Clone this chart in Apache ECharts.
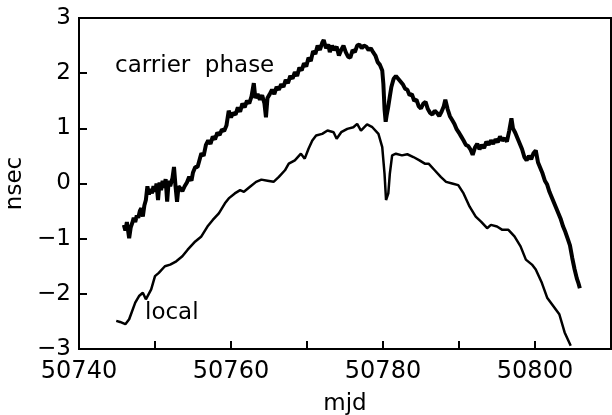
<!DOCTYPE html>
<html>
<head>
<meta charset="utf-8">
<script src="https://cdn.jsdelivr.net/npm/echarts@6/dist/echarts.min.js"></script>
<style>
  html, body { margin: 0; padding: 0; background: #fff; }
  #chart { width: 612px; height: 415px; }
</style>
</head>
<body>
<div id="chart"></div>
<script>
// mjd ticks and y ticks
var xTicks = [50740, 50760, 50780, 50800];
var yTicks = [-3, -2, -1, 0, 1, 2, 3];

// carrier phase (nsec) vs mjd
var carrierMjd = [
  50745.9, 50746.1, 50746.3, 50746.6, 50746.8, 50747.0, 50747.2, 50747.4, 50747.6, 50747.8,
  50748.0, 50748.2, 50748.4, 50748.6, 50748.8, 50749.0, 50749.2, 50749.4, 50749.6, 50749.8,
  50750.0, 50750.2, 50750.4, 50750.6, 50750.8, 50751.0, 50751.2, 50751.4, 50751.6, 50751.8,
  50752.0, 50752.3, 50752.5, 50752.7, 50752.9, 50753.1, 50753.4, 50753.6, 50753.9, 50754.2,
  50754.5, 50754.8, 50755.0, 50755.3, 50755.6, 50755.9, 50756.1, 50756.4, 50756.7, 50757.0,
  50757.3, 50757.6, 50757.9, 50758.2, 50758.5, 50758.8, 50759.1, 50759.4, 50759.7, 50760.0,
  50760.3, 50760.6, 50760.9, 50761.2, 50761.5, 50761.8, 50762.1, 50762.4, 50762.7, 50763.0,
  50763.2, 50763.5, 50763.8, 50764.1, 50764.4, 50764.6, 50764.8, 50765.1, 50765.4, 50765.7,
  50766.0, 50766.3, 50766.6, 50766.9, 50767.2, 50767.5, 50767.8, 50768.1, 50768.4, 50768.7,
  50769.0, 50769.3, 50769.6, 50769.9, 50770.2, 50770.5, 50770.8, 50771.1, 50771.4, 50771.7,
  50772.0, 50772.2, 50772.5, 50772.8, 50773.0, 50773.3, 50773.6, 50773.9, 50774.2, 50774.5,
  50774.8, 50775.1, 50775.4, 50775.7, 50776.0, 50776.3, 50776.6, 50776.9, 50777.2, 50777.5,
  50777.8, 50778.1, 50778.4, 50778.7, 50779.0, 50779.3, 50779.6, 50779.9, 50780.05, 50780.2,
  50780.35, 50780.5, 50780.7, 50780.9, 50781.1, 50781.4, 50781.7, 50782.0, 50782.3, 50782.6,
  50782.9, 50783.2, 50783.5, 50783.8, 50784.1, 50784.4, 50784.7, 50785.0, 50785.3, 50785.6,
  50785.9, 50786.2, 50786.5, 50786.8, 50787.1, 50787.4, 50787.7, 50788.0, 50788.2, 50788.5,
  50788.8, 50789.1, 50789.4, 50789.7, 50790.0, 50790.3, 50790.6, 50790.9, 50791.2, 50791.5,
  50791.8, 50792.1, 50792.4, 50792.7, 50793.0, 50793.3, 50793.6, 50793.9, 50794.2, 50794.5,
  50794.8, 50795.1, 50795.4, 50795.7, 50796.0, 50796.3, 50796.6, 50796.9, 50797.1, 50797.4,
  50797.7, 50798.0, 50798.3, 50798.6, 50798.9, 50799.2, 50799.5, 50799.8, 50800.1, 50800.4,
  50800.7, 50801.0, 50801.3, 50801.6, 50801.9, 50802.2, 50802.5, 50802.8, 50803.1, 50803.4,
  50803.7, 50804.0, 50804.3, 50804.6, 50804.9, 50805.2, 50805.5, 50805.7, 50805.9
];
var carrierNsec = [
  -0.75, -0.85, -0.70, -0.99, -0.80, -0.72, -0.62, -0.70, -0.58, -0.62,
  -0.50, -0.45, -0.60, -0.40, -0.30, -0.05, -0.20, -0.10, -0.18, -0.05,
  -0.15, 0.00, -0.30, 0.02, -0.12, 0.05, -0.08, 0.08, -0.33, 0.05,
  -0.05, 0.10, 0.30, -0.05, -0.33, -0.05, -0.10, -0.14, -0.05, 0.02,
  0.12, 0.05, 0.20, 0.30, 0.30, 0.45, 0.55, 0.50, 0.70, 0.78,
  0.72, 0.85, 0.80, 0.92, 0.88, 0.98, 0.95, 1.05, 1.32, 1.20,
  1.28, 1.25, 1.38, 1.30, 1.45, 1.38, 1.50, 1.45, 1.58, 1.82,
  1.55, 1.62, 1.52, 1.60, 1.45, 1.20, 1.55, 1.62, 1.70, 1.62,
  1.75, 1.70, 1.80, 1.75, 1.88, 1.82, 1.95, 1.90, 2.02, 1.95,
  2.10, 2.05, 2.18, 2.12, 2.28, 2.22, 2.40, 2.35, 2.50, 2.42,
  2.55, 2.60, 2.45, 2.52, 2.38, 2.50, 2.42, 2.48, 2.32, 2.42,
  2.50, 2.38, 2.30, 2.28, 2.42, 2.38, 2.50, 2.52, 2.45, 2.50,
  2.48, 2.42, 2.45, 2.38, 2.32, 2.20, 2.15, 2.05, 1.80, 1.35,
  1.12, 1.25, 1.40, 1.58, 1.75, 1.90, 1.95, 1.90, 1.85, 1.80,
  1.72, 1.70, 1.60, 1.62, 1.50, 1.52, 1.40, 1.36, 1.45, 1.48,
  1.35, 1.28, 1.25, 1.32, 1.28, 1.22, 1.30, 1.40, 1.52, 1.35,
  1.22, 1.15, 1.08, 0.98, 0.92, 0.85, 0.78, 0.70, 0.68, 0.62,
  0.52, 0.65, 0.72, 0.62, 0.70, 0.64, 0.76, 0.70, 0.78, 0.72,
  0.80, 0.75, 0.85, 0.78, 0.82, 0.76, 0.95, 1.18, 1.00, 0.92,
  0.82, 0.72, 0.62, 0.48, 0.42, 0.50, 0.44, 0.55, 0.60, 0.38,
  0.28, 0.18, 0.05, -0.02, -0.15, -0.25, -0.35, -0.45, -0.55, -0.65,
  -0.78, -0.88, -1.00, -1.12, -1.35, -1.55, -1.72, -1.80, -1.90
];

// local (nsec) vs mjd
var localMjd = [
  50744.9, 50745.4, 50746.1, 50746.6, 50747.4, 50747.9, 50748.4, 50748.8, 50749.5, 50750.0,
  50750.5, 50751.3, 50752.0, 50752.8, 50753.6, 50754.3, 50755.3, 50756.1, 50756.9, 50757.6,
  50758.4, 50759.2, 50759.7, 50760.5, 50761.2, 50761.7, 50762.5, 50763.3, 50764.0, 50764.8,
  50765.6, 50766.3, 50767.1, 50767.6, 50768.4, 50769.2, 50769.7, 50770.2, 50770.7, 50771.2,
  50772.0, 50772.7, 50773.5, 50773.9, 50774.5, 50775.3, 50776.1, 50776.6, 50777.1, 50777.9,
  50778.6, 50779.4, 50779.9, 50780.2, 50780.4, 50780.7, 50780.9, 50781.2, 50781.7, 50782.5,
  50783.2, 50784.0, 50784.8, 50785.5, 50786.0, 50786.8, 50787.6, 50788.3, 50789.1, 50789.9,
  50790.6, 50791.4, 50792.2, 50792.9, 50793.7, 50794.2, 50795.0, 50795.7, 50796.5, 50797.3,
  50798.1, 50798.8, 50799.6, 50800.1, 50800.9, 50801.6, 50802.4, 50803.2, 50803.9, 50804.7
];
var localNsec = [
  -2.49, -2.51, -2.55, -2.46, -2.16, -2.04, -1.98, -2.10, -1.92, -1.68,
  -1.62, -1.50, -1.47, -1.41, -1.32, -1.20, -1.05, -0.96, -0.78, -0.66,
  -0.54, -0.36, -0.27, -0.18, -0.12, -0.15, -0.06, 0.03, 0.07, 0.05,
  0.03, 0.12, 0.24, 0.36, 0.42, 0.54, 0.45, 0.63, 0.78, 0.87,
  0.90, 0.96, 0.93, 0.81, 0.93, 0.99, 1.02, 1.08, 0.96, 1.07,
  1.02, 0.90, 0.66, 0.18, -0.30, -0.18, 0.18, 0.51, 0.54, 0.51,
  0.53, 0.48, 0.42, 0.36, 0.36, 0.24, 0.12, 0.03, 0.00, -0.03,
  -0.18, -0.42, -0.60, -0.69, -0.81, -0.75, -0.78, -0.84, -0.84, -0.96,
  -1.14, -1.38, -1.47, -1.56, -1.80, -2.07, -2.22, -2.37, -2.70, -2.94
];

function pairs(xs, ys) {
  return xs.map(function (x, i) { return [x, ys[i]]; });
}

var font = "DejaVu Sans";
var chart = echarts.init(document.getElementById("chart"));
var option = {
  animation: false,
  backgroundColor: "#fff",
  grid: {
    left: 79, right: 1, top: 18, bottom: 66,
    containLabel: false, outerBoundsMode: "none",
    show: true, borderColor: "#000", borderWidth: 2
  },
  xAxis: {
    type: "value",
    min: 50740, max: 50810, interval: 10,
    name: "mjd", nameLocation: "middle", nameGap: 44,
    nameTextStyle: { fontFamily: font, fontSize: 23, color: "#000" },
    axisLine: { onZero: false, lineStyle: { color: "#000", width: 2 } },
    axisTick: { inside: true, length: 8, lineStyle: { color: "#000", width: 2 } },
    axisLabel: {
      fontFamily: font, fontSize: 24, color: "#000", margin: 11,
      formatter: function (v) { return xTicks.indexOf(v) >= 0 ? String(v) : ""; }
    },
    splitLine: { show: false }
  },
  yAxis: {
    type: "value",
    min: -3, max: 3, interval: 1,
    name: "nsec", nameLocation: "middle", nameGap: 50, nameRotate: 90,
    nameTextStyle: { fontFamily: font, fontSize: 23, color: "#000" },
    axisLine: { onZero: false, lineStyle: { color: "#000", width: 2 } },
    axisTick: { inside: true, length: 8, lineStyle: { color: "#000", width: 2 } },
    axisLabel: {
      fontFamily: font, fontSize: 23, color: "#000", margin: 8,
      formatter: function (v) { return yTicks.indexOf(v) >= 0 ? String(v).replace("-", "\u2212") : ""; }
    },
    splitLine: { show: false }
  },
  series: [
    {
      name: "carrier phase",
      type: "line",
      data: pairs(carrierMjd, carrierNsec),
      showSymbol: false,
      lineStyle: { color: "#000", width: 4 },
      z: 3
    },
    {
      name: "local",
      type: "line",
      data: pairs(localMjd, localNsec),
      showSymbol: false,
      lineStyle: { color: "#000", width: 2.5 },
      z: 3
    }
  ],
  graphic: [
    {
      type: "text", left: 115, top: 55,
      style: { text: "carrier  phase", font: "23px " + font, fill: "#000" }
    },
    {
      type: "text", left: 145, top: 302,
      style: { text: "local", font: "23px " + font, fill: "#000" }
    }
  ]
};
chart.setOption(option, true);
</script>
</body>
</html>
